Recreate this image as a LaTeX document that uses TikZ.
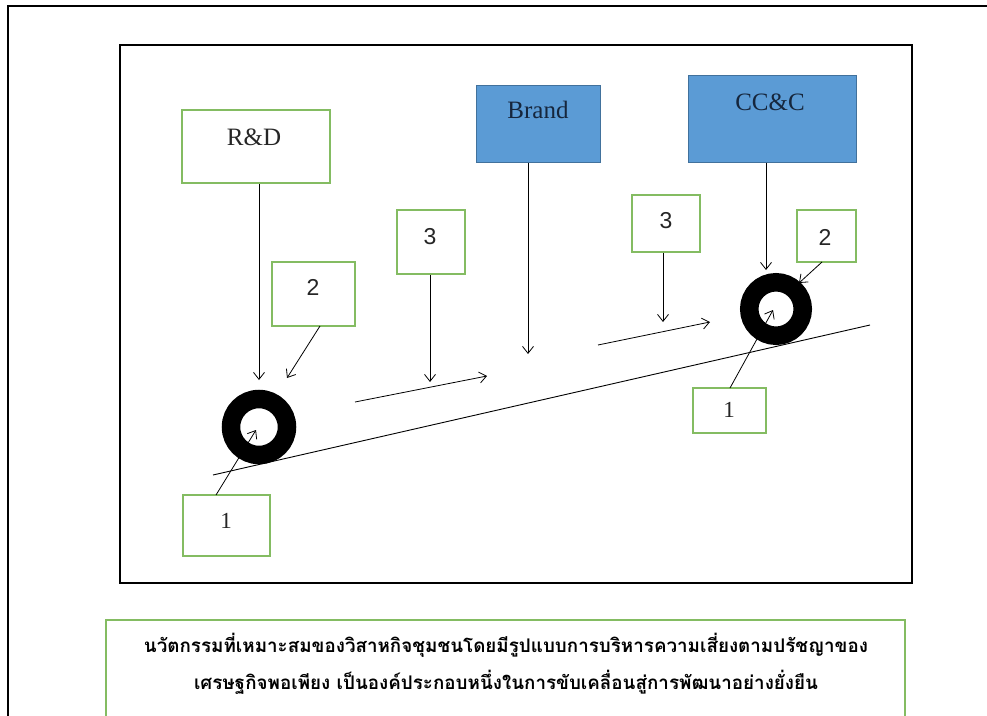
\documentclass[tikz,border=0pt]{standalone}
\usepackage{fontspec}
\setmainfont{Liberation Serif}
\newfontfamily\numsans{Liberation Sans}
\newfontfamily\thaifont[Script=Thai]{Loma}
\usetikzlibrary{arrows.meta}
\definecolor{gborder}{HTML}{84BC62}
\definecolor{bfill}{HTML}{5B9BD5}
\definecolor{bborder}{HTML}{41719C}
\definecolor{navytext}{HTML}{16263C}
\begin{document}
\begin{tikzpicture}[x=1pt,y=-1pt,
  gbox/.style={draw=gborder,line width=1.6pt,fill=white,inner sep=0pt},
  bbox/.style={draw=bborder,line width=1pt,fill=bfill,inner sep=0pt},
  lbl/.style={font=\fontsize{25}{28}\selectfont,text=black!85},
  blbl/.style={font=\fontsize{25}{28}\selectfont,text=navytext},
  nums/.style={font=\numsans\fontsize{23}{26}\selectfont,text=black!85},
  numr/.style={font=\fontsize{23}{26}\selectfont,text=black!85},
  arr/.style={line width=0.8pt,-{Straight Barb[length=7pt,width=11pt]}},
  tyre/.style={draw=black,line width=18.5pt}]
\useasboundingbox (0,0) rectangle (987,715);
\begin{scope}
\clip (0,0) rectangle (987,715);
\draw[line width=2.5pt] (8,6) rectangle (1000,740);
\draw[gborder,line width=1.6pt,fill=white] (106,620) rectangle (905,740);
\end{scope}
\node[draw=black,line width=2pt,minimum width=792pt,minimum height=538pt,inner sep=0pt] (frame) at (516,314) {};
% Thai caption
\node[font=\thaifont\bfseries\fontsize{18.8}{22}\selectfont] (cap1) at (506,645) {นวัตกรรมที่เหมาะสมของวิสาหกิจชุมชนโดยมีรูปแบบการบริหารความเสี่ยงตามปรัชญาของ};
\node[font=\thaifont\bfseries\fontsize{18.8}{22}\selectfont] (cap2) at (506,682) {เศรษฐกิจพอเพียง เป็นองค์ประกอบหนึ่งในการขับเคลื่อนสู่การพัฒนาอย่างยั่งยืน};
% boxes
\node[gbox,minimum width=148pt,minimum height=73pt] (rd) at (256,146.5) {};
\node[lbl] (rdt) at (254,137) {R\&D};
\node[bbox,minimum width=124pt,minimum height=77pt] (brand) at (538,123.5) {};
\node[blbl] (brandt) at (538,110) {Brand};
\node[bbox,minimum width=168pt,minimum height=87pt] (ccc) at (772,118.5) {};
\node[blbl] (ccct) at (770,102) {CC\&C};
\node[gbox,minimum width=68pt,minimum height=64pt] (b3l) at (431,242) {};
\node[nums] at (430,237) {3};
\node[gbox,minimum width=83pt,minimum height=64pt] (b2l) at (313.5,294) {};
\node[nums] at (313,287) {2};
\node[gbox,minimum width=68pt,minimum height=57pt] (b3r) at (666,223.5) {};
\node[nums] at (666,221) {3};
\node[gbox,minimum width=59pt,minimum height=52pt] (b2r) at (826.5,236) {};
\node[nums] at (825,237) {2};
\node[gbox,minimum width=87pt,minimum height=61pt] (b1l) at (226.5,525.5) {};
\node[numr] at (226,521) {1};
\node[gbox,minimum width=73pt,minimum height=45pt] (b1r) at (729.5,410.5) {};
\node[numr] at (729,410) {1};
% slope
\coordinate (sA) at (213,475);
\coordinate (sB) at (870,325);
\draw[line width=0.9pt] (sA) -- (sB);
% tyres
\coordinate (tl) at (259,427);
\coordinate (tr) at (776,309);
\draw[tyre] (tl) circle[radius=28pt];
\draw[tyre] (tr) circle[radius=26.75pt];
% arrow targets
\coordinate (rdE) at (259,380);
\coordinate (b2lS) at (320,326);
\coordinate (b2lE) at (287,378);
\coordinate (b1lS) at (216,495);
\coordinate (b1lE) at (256,430);
\coordinate (b3lE) at (430,382);
\coordinate (m1S) at (355,402);
\coordinate (m1E) at (487,376);
\coordinate (brE) at (528,354);
\coordinate (b3rE) at (663,322);
\coordinate (m2S) at (598,345);
\coordinate (m2E) at (710,322);
\coordinate (cE) at (766,270);
\coordinate (b2rS) at (822,262);
\coordinate (b2rE) at (799,283);
\coordinate (b1rS) at (730,388);
\coordinate (b1rE) at (773,310);
\draw[arr] (rd.south -| rdE) -- (rdE);
\draw[arr] (b2lS) -- (b2lE);
\draw[arr] (b1lS) -- (b1lE);
\draw[arr] (b3l.south -| b3lE) -- (b3lE);
\draw[arr] (m1S) -- (m1E);
\draw[arr] (brand.south -| brE) -- (brE);
\draw[arr] (b3r.south -| b3rE) -- (b3rE);
\draw[arr] (m2S) -- (m2E);
\draw[arr] (ccc.south -| cE) -- (cE);
\draw[arr] (b2rS) -- (b2rE);
\draw[arr] (b1rS) -- (b1rE);
\end{tikzpicture}
\end{document}
